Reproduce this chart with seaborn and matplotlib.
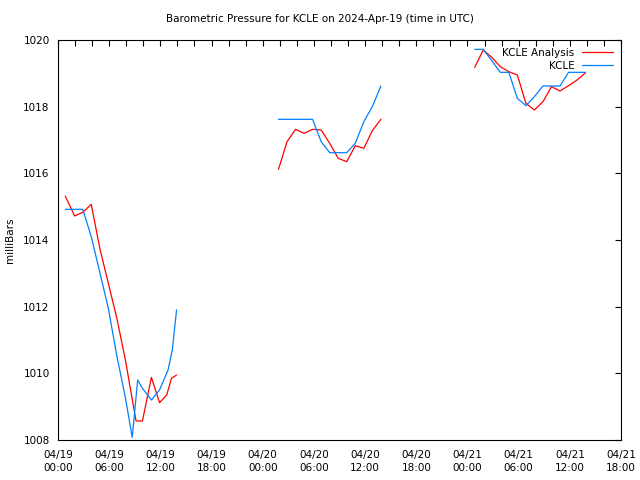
import numpy as np
import pandas as pd
import matplotlib
matplotlib.use("Agg")
import matplotlib.pyplot as plt
import seaborn as sns
from matplotlib.lines import Line2D

# ---- data (hours since 2024-04-19 00:00 UTC) ----
ana_t1 = [0.85, 1.95, 2.9, 3.9, 4.9, 5.9, 6.9, 7.9, 9.15, 9.9, 10.95, 11.9, 12.75, 13.3, 13.9]
ana_p1 = [1015.32, 1014.72, 1014.83, 1015.07, 1013.75, 1012.7, 1011.65, 1010.4, 1008.57, 1008.57,
          1009.88, 1009.12, 1009.35, 1009.85, 1009.95]
ana_t2 = [25.85, 26.85, 27.85, 28.85, 29.85, 30.85, 31.85, 32.85, 33.85, 34.85, 35.85, 36.85, 37.85]
ana_p2 = [1016.12, 1016.95, 1017.32, 1017.2, 1017.32, 1017.3, 1016.9, 1016.45, 1016.35, 1016.83,
          1016.75, 1017.28, 1017.62]
ana_t3 = [48.85, 49.85, 50.85, 51.85, 52.85, 53.85, 54.85, 55.85, 56.85, 57.85, 58.85, 59.85, 60.85, 61.85]
ana_p3 = [1019.18, 1019.7, 1019.48, 1019.2, 1019.05, 1018.95, 1018.1, 1017.9, 1018.15, 1018.6,
          1018.47, 1018.63, 1018.8, 1019.02]

obs_t1 = [0.85, 1.9, 2.9, 3.9, 4.9, 5.9, 6.9, 7.9, 8.7, 9.34, 9.9, 10.95, 11.9, 12.9, 13.4, 13.9]
obs_p1 = [1014.92, 1014.92, 1014.92, 1014.1, 1013.03, 1011.95, 1010.52, 1009.27, 1008.08, 1009.8,
          1009.55, 1009.2, 1009.5, 1010.1, 1010.7, 1011.9]
obs_t2 = [25.85, 26.85, 27.85, 28.85, 29.85, 30.85, 31.85, 32.85, 33.85, 34.85, 35.85, 36.85, 37.85]
obs_p2 = [1017.62, 1017.62, 1017.62, 1017.62, 1017.62, 1016.95, 1016.62, 1016.62, 1016.62, 1016.9,
          1017.55, 1018.0, 1018.62]
obs_t3 = [48.85, 49.85, 50.85, 51.85, 52.85, 53.85, 54.85, 55.85, 56.85, 57.85, 58.85, 59.85, 60.85, 61.85]
obs_p3 = [1019.72, 1019.72, 1019.38, 1019.03, 1019.03, 1018.25, 1018.03, 1018.3, 1018.62, 1018.62,
          1018.62, 1019.03, 1019.03, 1019.03]

tick_hours = list(range(0, 67, 6))
tick_labels = ["04/19\n00:00", "04/19\n06:00", "04/19\n12:00", "04/19\n18:00",
               "04/20\n00:00", "04/20\n06:00", "04/20\n12:00", "04/20\n18:00",
               "04/21\n00:00", "04/21\n06:00", "04/21\n12:00", "04/21\n18:00"]
y_ticks = [1008, 1010, 1012, 1014, 1016, 1018, 1020]

title = "Barometric Pressure for KCLE on 2024-Apr-19 (time in UTC)"

def frame(ts, ps, name):
    rows = []
    for seg, (t, p) in enumerate(zip(ts, ps)):
        for a, b in zip(t, p):
            rows.append({"t": a, "p": b, "seg": seg, "series": name})
    return pd.DataFrame(rows)

df_ana = frame([ana_t1, ana_t2, ana_t3], [ana_p1, ana_p2, ana_p3], "KCLE Analysis")
df_obs = frame([obs_t1, obs_t2, obs_t3], [obs_p1, obs_p2, obs_p3], "KCLE")

sns.set_style("white")
plt.rcParams["font.family"] = ["DejaVu Sans"]
plt.rcParams["font.size"] = 7.5
plt.rcParams["text.color"] = "black"
plt.rcParams["axes.labelcolor"] = "black"
plt.rcParams["xtick.color"] = "black"
plt.rcParams["ytick.color"] = "black"

fig = plt.figure(figsize=(6.4, 4.8), dpi=100)
ax = fig.add_axes([58 / 640, 40 / 480, 563 / 640, 400 / 480])

red = "#ff0000"
blue = "#0080ff"
sns.lineplot(data=df_ana, x="t", y="p", units="seg", estimator=None, color=red,
             linewidth=0.9, ax=ax, legend=False)
sns.lineplot(data=df_obs, x="t", y="p", units="seg", estimator=None, color=blue,
             linewidth=0.9, ax=ax, legend=False)

ax.set_xlim(0, 66)
ax.set_ylim(1008, 1020)
ax.set_xticks(tick_hours)
ax.set_xticklabels(tick_labels, linespacing=1.45)
ax.set_xticks(list(range(0, 67, 2)), minor=True)
ax.set_yticks(y_ticks)
ax.set_yticklabels([str(v) for v in y_ticks])
ax.tick_params(axis="both", which="both", direction="in", top=True, right=True,
               length=4, width=0.8, labelsize=7.5, color="black", labelcolor="black")
ax.tick_params(axis="x", which="major", pad=7)
ax.tick_params(axis="y", which="major", pad=6)
for s in ax.spines.values():
    s.set_visible(True)
    s.set_color("black")
    s.set_linewidth(0.8)

ax.set_xlabel("")
ax.set_ylabel("milliBars", fontsize=7.5, labelpad=6, color="black")
fig.text(0.5, 1 - 19 / 480, title, ha="center", va="center", fontsize=7.5, color="black")

handles = [Line2D([], [], color=red, linewidth=0.9), Line2D([], [], color=blue, linewidth=0.9)]
ax.legend(handles, ["KCLE Analysis", "KCLE"], loc="upper right", frameon=False,
          markerfirst=False, handlelength=3.0, fontsize=7.5, borderaxespad=0.35,
          labelspacing=0.3, handletextpad=0.7, borderpad=0.4)

fig.savefig("out.png", dpi=100)
